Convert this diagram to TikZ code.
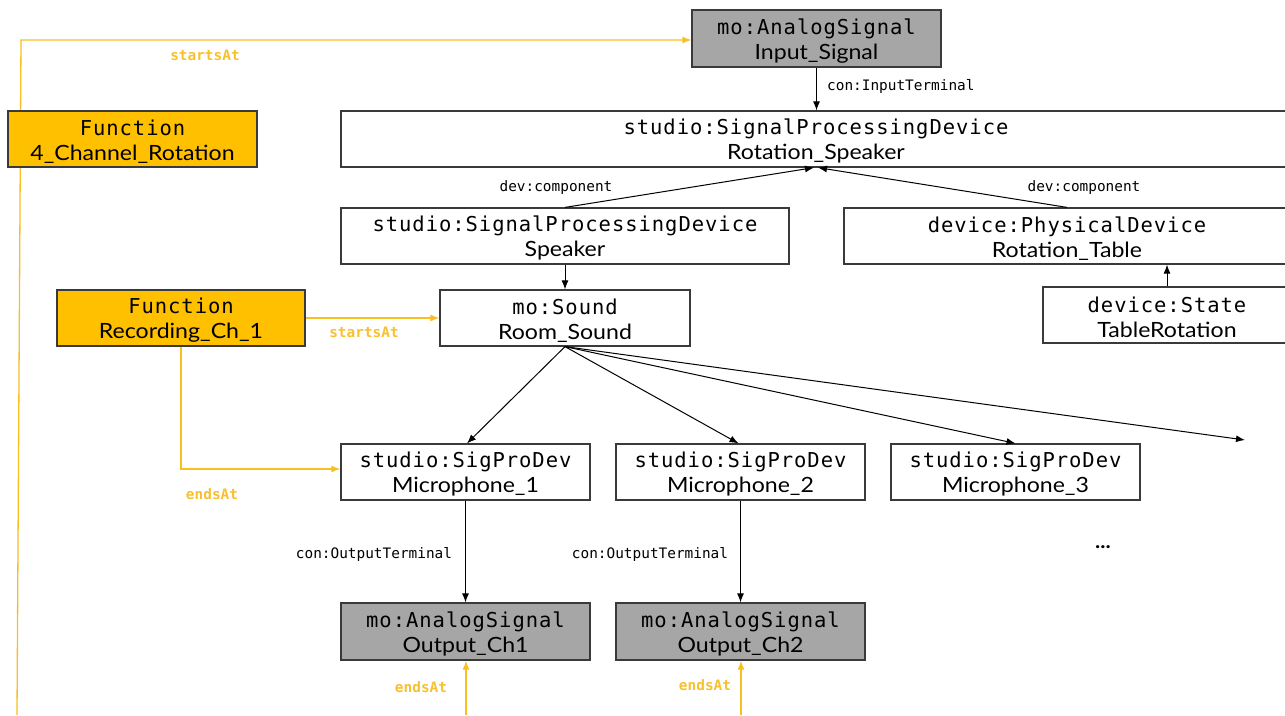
\documentclass[tikz,border=0pt]{standalone}
\usepackage{fontspec}
\setmainfont{Lato}[FakeStretch=1.1]
\newfontfamily\monof{DejaVu Sans Mono}[LetterSpace=4.7]
\newfontfamily\labelf{DejaVu Sans Mono}
\usetikzlibrary{arrows.meta}

\definecolor{boxline}{HTML}{3A3A3A}
\definecolor{sigfill}{HTML}{A6A6A6}
\definecolor{funcfill}{HTML}{FFC000}
\definecolor{orangeline}{HTML}{F8BE22}
\definecolor{orangetext}{HTML}{F9C02E}

% class name in mono on top, individual name below
\newcommand\twolines[2]{\rule{0pt}{20pt}{\monof\fontsize{20.5}{25}\selectfont #1}\\#2}

\tikzset{
  box/.style={draw=boxline, line width=1.2pt, fill=white, rectangle,
    minimum width=249pt, minimum height=56pt, inner sep=0pt, align=center,
    font=\fontsize{21}{25}\selectfont},
  graybox/.style={box, fill=sigfill},
  funcbox/.style={box, fill=funcfill},
  rel/.style={draw=black, line width=1pt, -{Latex[length=9pt,width=7pt]}},
  orel/.style={draw=orangeline, line width=1.3pt, -{Latex[length=9pt,width=7pt]}},
  lbl/.style={font=\labelf\fontsize{14.4}{16}\selectfont, inner sep=0pt},
  olbl/.style={lbl, font=\labelf\bfseries\fontsize{14.4}{16}\selectfont, text=orangetext},
}

\begin{document}
\begin{tikzpicture}[x=1pt, y=-1pt]
\useasboundingbox (0,0) rectangle (1285,715);

% free ends of connectors
\coordinate (bottomA) at (17,715);
\coordinate (cornerA) at (21,40);
\coordinate (bottomB) at (466,715);
\coordinate (bottomC) at (741,715);
\coordinate (cornerD) at (181,469);
\coordinate (more) at (1245,440);

% boxes
\node[graybox, minimum height=57pt] (insig) at (816.5,38.5) {\twolines{mo:AnalogSignal}{Input\_Signal}};
\node[box, minimum width=950pt] (rotspk) at (816,139) {\twolines{studio:SignalProcessingDevice}{Rotation\_Speaker}};
\node[box, minimum width=448pt] (spk) at (565,236) {\twolines{studio:SignalProcessingDevice}{Speaker}};
\node[box, minimum width=446pt] (rtab) at (1067,236) {\twolines{device:PhysicalDevice}{Rotation\_Table}};
\node[box, minimum width=248pt] (trot) at (1167,315) {\twolines{device:State}{TableRotation}};
\node[box, minimum width=250pt] (room) at (565,318) {\twolines{mo:Sound}{Room\_Sound}};
\node[box] (mic1) at (465.5,472) {\twolines{studio:SigProDev}{Microphone\_1}};
\node[box] (mic2) at (740.5,472) {\twolines{studio:SigProDev}{Microphone\_2}};
\node[box] (mic3) at (1015.5,472) {\twolines{studio:SigProDev}{Microphone\_3}};
\node[graybox, minimum height=57pt] (out1) at (465.5,631.5) {\twolines{mo:AnalogSignal}{Output\_Ch1}};
\node[graybox, minimum height=57pt] (out2) at (740.5,631.5) {\twolines{mo:AnalogSignal}{Output\_Ch2}};

% the top function: its line passes behind its box
\draw[orel] (bottomA) -- (cornerA) -- (insig.west |- cornerA);
\node[funcbox] (f4) at (132.5,139) {\twolines{Function}{4\_Channel\_Rotation}};
\node[funcbox, minimum width=248pt] (frec) at (181,318) {\twolines{Function}{Recording\_Ch\_1}};

\node[font=\fontsize{20}{24}\selectfont\bfseries] (dots) at (1103,547) {...};

% black relations
\draw[rel] (insig.south) -- (insig.south |- rotspk.north);
\draw[rel] (spk.north) -- ([xshift=-2pt]rotspk.south);
\draw[rel] (rtab.north) -- ([xshift=2pt]rotspk.south);
\draw[rel] (spk.south) -- (room.north);
\draw[rel] (trot.north) -- (trot.north |- rtab.south);
\draw[rel] (room.south) -- ([xshift=1.5pt]mic1.north);
\draw[rel] (room.south) -- ([xshift=-2pt]mic2.north);
\draw[rel] (room.south) -- (mic3.north);
\draw[rel] (room.south) -- (more);
\draw[rel] (mic1.south) -- (out1.north);
\draw[rel] (mic2.south) -- (out2.north);

% orange relations
\draw[orel] (frec.east) -- (room.west);
\draw[orel] (frec.south) -- (cornerD) -- (mic1.west |- cornerD);
\draw[orel] (bottomB) -- (bottomB |- out1.south);
\draw[orel] (bottomC) -- (bottomC |- out2.south);

% labels
\node[lbl, anchor=west] (lin) at (827,86) {con:InputTerminal};
\node[lbl] (lc1) at (556,188) {dev:component};
\node[lbl] (lc2) at (1084,188) {dev:component};
\node[lbl] (lo1) at (374,554) {con:OutputTerminal};
\node[lbl] (lo2) at (650,554) {con:OutputTerminal};
\node[olbl] (ls1) at (205,55) {startsAt};
\node[olbl] (ls2) at (364,332) {startsAt};
\node[olbl] (le1) at (212,494) {endsAt};
\node[olbl] (le2) at (421,687) {endsAt};
\node[olbl] (le3) at (705,685) {endsAt};
\end{tikzpicture}
\end{document}
